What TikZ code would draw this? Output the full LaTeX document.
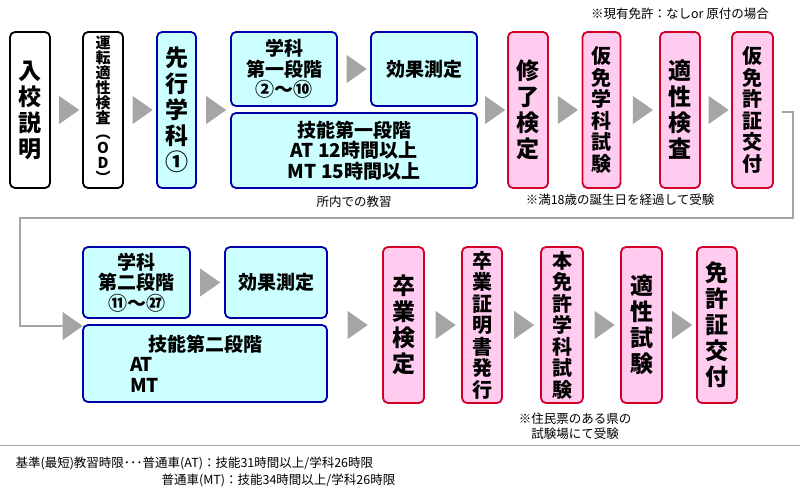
\documentclass[tikz,border=0pt]{standalone}
\usepackage{fontspec}
\setmainfont{Noto Sans CJK JP}
\usetikzlibrary{shapes.geometric,calc}
\definecolor{bblue}{RGB}{0,0,170}
\definecolor{cfill}{RGB}{204,255,255}
\definecolor{rred}{RGB}{210,0,40}
\definecolor{pfill}{RGB}{255,204,240}
\definecolor{tgray}{RGB}{165,165,165}
\tikzset{
 base/.style={rectangle,rounded corners=5pt,line width=1.8pt,inner sep=0pt,align=center,font=\bfseries},
 wbox/.style={base,draw=black,fill=white},
 bbox/.style={base,draw=bblue,fill=cfill},
 pbox/.style={base,draw=rred,fill=pfill},
 tri/.style={isosceles triangle,isosceles triangle apex angle=70,fill=tgray,inner sep=0pt,minimum height=17pt,minimum width=28pt},
 note/.style={font=\fontsize{12.5pt}{15pt}\selectfont,align=left},
 gline/.style={tgray,line width=2pt},
 big/.style={font=\bfseries\fontsize{23pt}{26pt}\selectfont},
 mid/.style={font=\bfseries\fontsize{20pt}{21.5pt}\selectfont},
 sm/.style={font=\bfseries\fontsize{15pt}{15pt}\selectfont},
 hz/.style={font=\bfseries\fontsize{19pt}{20.5pt}\selectfont},
}
\begin{document}
\begin{tikzpicture}[x=1pt,y=-1pt]
\useasboundingbox[fill=white] (0,0) rectangle (800,490);
% top row
\node[wbox,big,minimum width=40,minimum height=156] (a1) at (30,110) {入\\校\\説\\明};
\node[wbox,sm,minimum width=40,minimum height=156] (a2) at (103,110) {運\\転\\適\\性\\検\\査\\︵\\O\\D\\︶};
\node[bbox,big,minimum width=39,minimum height=156] (a3) at (176.5,110) {先\\行\\学\\科\\①};
\node[bbox,hz,minimum width=106,minimum height=74] (a4) at (284,69) {学科\\第一段階\\②〜⑩};
\node[bbox,hz,minimum width=106,minimum height=74] (a5) at (424,69) {効果測定};
\node[bbox,hz,minimum width=246,minimum height=75] (a6) at (354,150.5) {技能第一段階\\AT 12時間以上\\MT 15時間以上};
\node[pbox,big,minimum width=40,minimum height=156] (a7) at (528,110) {修\\了\\検\\定};
\node[pbox,mid,minimum width=38,minimum height=156] (a8) at (601.5,110) {仮\\免\\学\\科\\試\\験};
\node[pbox,big,minimum width=40,minimum height=156] (a9) at (680,110) {適\\性\\検\\査};
\node[pbox,mid,minimum width=41,minimum height=156] (a10) at (752.5,110) {仮\\免\\許\\証\\交\\付};
\node[tri] at ($(a1.east)!0.5!(a2.west)$) {};
\node[tri] at ($(a2.east)!0.5!(a3.west)$) {};
\node[tri] at ($(a3.east)!0.5!(a4.west |- a3)$) {};
\node[tri] at ($(a4.east)!0.5!(a5.west)$) {};
\node[tri] at ($(a6.east |- a7)!0.5!(a7.west)$) {};
\node[tri] at ($(a7.east)!0.5!(a8.west)$) {};
\node[tri] at ($(a8.east)!0.5!(a9.west)$) {};
\node[tri] at ($(a9.east)!0.5!(a10.west)$) {};
\node[note] (n1) at (680,14) {※現有免許：なしor 原付の場合};
\node[note] (n2) at (354,202) {所内での教習};
\node[note] (n3) at (620,200) {※満18歳の誕生日を経過して受験};
% bottom row
\node[bbox,hz,minimum width=107,minimum height=71] (b1) at (136.5,282.5) {学科\\第二段階\\⑪〜㉗};
\node[bbox,hz,minimum width=102,minimum height=71] (b2) at (276,282.5) {効果測定};
\node[bbox,hz,minimum width=244,minimum height=77] (b3) at (205,363.5) {技能第二段階\\\makebox[150pt][l]{AT}\\\makebox[150pt][l]{MT}};
\node[pbox,big,minimum width=41,minimum height=156] (b4) at (403.5,325) {卒\\業\\検\\定};
\node[pbox,mid,minimum width=40,minimum height=156] (b5) at (482,325) {卒\\業\\証\\明\\書\\発\\行};
\node[pbox,mid,minimum width=42,minimum height=156] (b6) at (562,325) {本\\免\\許\\学\\科\\試\\験};
\node[pbox,big,minimum width=41,minimum height=156] (b7) at (641.5,325) {適\\性\\試\\験};
\node[pbox,big,minimum width=40,minimum height=156] (b8) at (717,325) {免\\許\\証\\交\\付};
\node[tri] at ($(b1.east)!0.5!(b2.west)$) {};
\node[tri] at ($(b3.east |- b4)!0.5!(b4.west)$) {};
\node[tri] at ($(b4.east)!0.5!(b5.west)$) {};
\node[tri] at ($(b5.east)!0.5!(b6.west)$) {};
\node[tri] at ($(b6.east)!0.5!(b7.west)$) {};
\node[tri] at ($(b7.east)!0.5!(b8.west)$) {};
\node[tri] (t0) at (70,326) {};
\node[note,align=left] (n4) at (575,426) {※住民票のある県の\\\hspace*{1em}試験場にて受験};
% return line
\coordinate (r0) at (782,112);
\draw[gline] (r0) -- (793,112) -- (793,218) -- (20,218) -- (20,326) -- (t0.west);
\draw[gray!70,line width=1pt] (0,445) -- (800,445);
\node[note,anchor=west] (f1) at (12,463) {基準(最短)教習時限･･･普通車(AT)：技能31時間以上/学科26時限};
\node[note,anchor=west] (f2) at (158,480) {普通車(MT)：技能34時間以上/学科26時限};
\end{tikzpicture}
\end{document}
